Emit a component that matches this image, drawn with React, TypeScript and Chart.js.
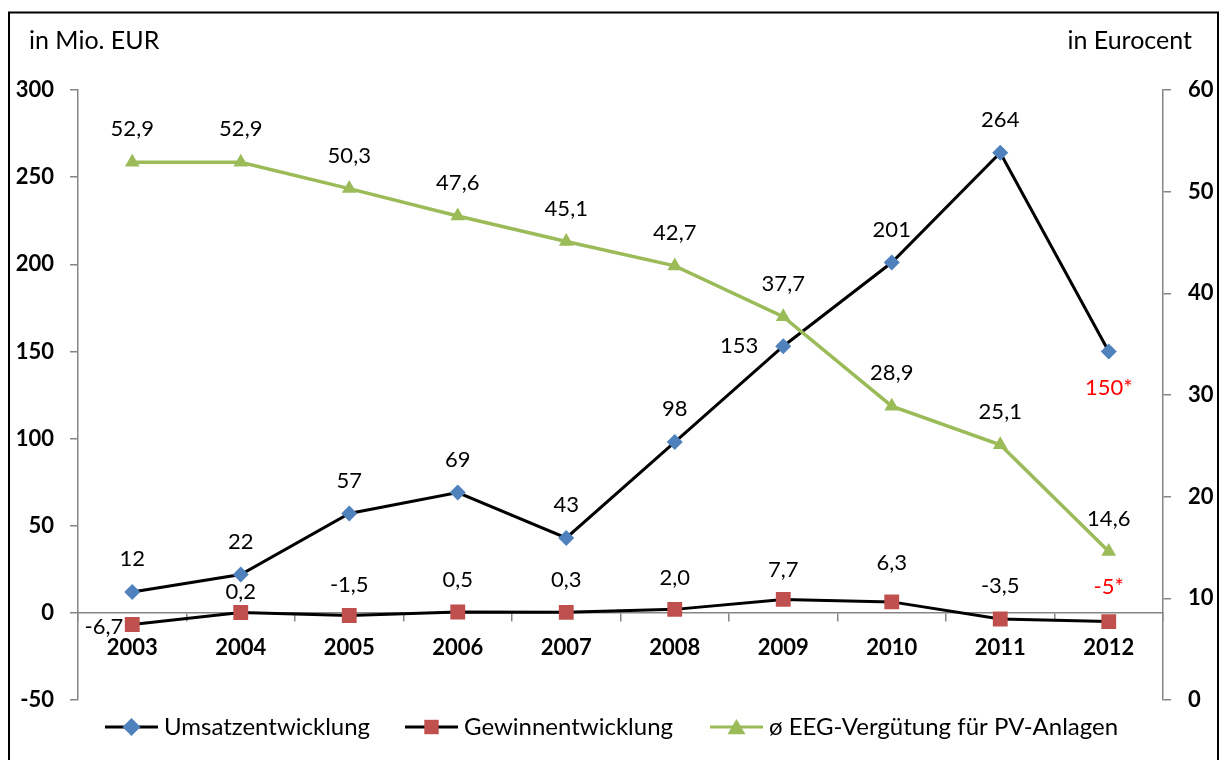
import React, { useEffect, useRef } from 'react';
import { Chart, registerables } from 'chart.js';

Chart.register(...registerables);

// ---- data ----
const years = ['2003', '2004', '2005', '2006', '2007', '2008', '2009', '2010', '2011', '2012'];
const umsatz = [12, 22, 57, 69, 43, 98, 153, 201, 264, 150];
const gewinn = [-6.7, 0.2, -1.5, 0.5, 0.3, 2.0, 7.7, 6.3, -3.5, -5];
const eeg = [52.9, 52.9, 50.3, 47.6, 45.1, 42.7, 37.7, 28.9, 25.1, 14.6];
const estimated = [false, false, false, false, false, false, false, false, false, true];

const seriesNames = ['Umsatzentwicklung', 'Gewinnentwicklung', 'ø EEG-Vergütung für PV-Anlagen'];
const leftAxisTitle = 'in Mio. EUR';
const rightAxisTitle = 'in Eurocent';

// ---- label placement (style) ----
const umsatzLabelPos = ['top', 'top', 'top', 'top', 'top', 'top', 'left', 'top', 'top', 'bottom'];
const gewinnLabelPos = ['leftClose', 'top', 'top', 'top', 'top', 'top', 'top', 'top', 'top', 'top'];
const gewinnLabelDy = [2, -21, -31, -32, -32, -31, -30, -39, -33, -35];
const eegLabelPos = ['top', 'top', 'top', 'top', 'top', 'top', 'top', 'top', 'top', 'top'];
const legendStarts = [105, 405, 710];

const FONT = 'Lato';
const BLUE = '#4F81BD';
const RED = '#C0504D';
const GREEN = '#9BBB59';
const AXIS = '#868686';

const fmtDec = (v: number) => v.toFixed(1).replace('.', ',');

const umsatzTexts = umsatz.map((v, i) => String(v) + (estimated[i] ? '*' : ''));
const gewinnTexts = gewinn.map((v, i) => (estimated[i] ? String(v) + '*' : fmtDec(v)));
const eegTexts = eeg.map((v) => fmtDec(v));

function drawMarker(ctx: CanvasRenderingContext2D, kind: string, x: number, y: number, r: number, color: string) {
  ctx.save();
  ctx.fillStyle = color;
  ctx.beginPath();
  if (kind === 'diamond') {
    ctx.moveTo(x, y - r);
    ctx.lineTo(x + r, y);
    ctx.lineTo(x, y + r);
    ctx.lineTo(x - r, y);
  } else if (kind === 'square') {
    ctx.rect(x - r * 0.72, y - r * 0.72, r * 1.44, r * 1.44);
  } else {
    ctx.moveTo(x, y - r * 0.9);
    ctx.lineTo(x + r, y + r * 0.8);
    ctx.lineTo(x - r, y + r * 0.8);
  }
  ctx.closePath();
  ctx.fill();
  ctx.restore();
}

const decorPlugin = {
  id: 'decor',
  beforeDraw(chart: any) {
    const ctx = chart.ctx as CanvasRenderingContext2D;
    ctx.save();
    ctx.fillStyle = '#ffffff';
    ctx.fillRect(0, 0, chart.width, chart.height);
    ctx.restore();
  },
  afterDatasetsDraw(chart: any) {
    const ctx = chart.ctx as CanvasRenderingContext2D;
    ctx.save();
    ctx.font = `22px ${FONT}`;
    ctx.textBaseline = 'middle';
    chart.data.datasets.forEach((ds: any, i: number) => {
      const meta = chart.getDatasetMeta(i);
      const cfg = ds.labelCfg;
      meta.data.forEach((pt: any, j: number) => {
        const pos = cfg.pos[j];
        let x = pt.x;
        let y = pt.y;
        ctx.textAlign = 'center';
        if (pos === 'top') {
          y += cfg.dy ? cfg.dy[j] : -33;
        } else if (pos === 'bottom') {
          y += 36;
        } else if (pos === 'left') {
          ctx.textAlign = 'right';
          x -= 25;
        } else if (pos === 'leftClose') {
          ctx.textAlign = 'right';
          x -= 9;
          y += cfg.dy ? cfg.dy[j] : 0;
        }
        ctx.fillStyle = estimated[j] && cfg.markEstimated ? '#FF0000' : '#000000';
        ctx.fillText(cfg.texts[j], x, y);
      });
    });
    ctx.restore();
  },
  afterDraw(chart: any) {
    const ctx = chart.ctx as CanvasRenderingContext2D;
    ctx.save();
    // outer frame
    ctx.strokeStyle = '#000';
    ctx.lineWidth = 2;
    ctx.strokeRect(9, 12.5, 1209, 800);
    // axis titles
    ctx.fillStyle = '#000';
    ctx.font = `25px ${FONT}`;
    ctx.textBaseline = 'middle';
    ctx.textAlign = 'left';
    ctx.fillText(leftAxisTitle, 29, 41);
    ctx.textAlign = 'right';
    ctx.fillText(rightAxisTitle, 1192, 41);
    // legend
    ctx.font = `24px ${FONT}`;
    const items = [
      { text: seriesNames[0], line: '#000', marker: 'diamond', color: BLUE, r: 9 },
      { text: seriesNames[1], line: '#000', marker: 'square', color: RED, r: 10 },
      { text: seriesNames[2], line: GREEN, marker: 'triangle', color: GREEN, r: 9 },
    ];
    const sample = 53;
    const gap = 6;
    const ly = 727;
    items.forEach((it, k) => {
      const sx = legendStarts[k];
      ctx.strokeStyle = it.line;
      ctx.lineWidth = 3;
      ctx.beginPath();
      ctx.moveTo(sx, ly);
      ctx.lineTo(sx + sample, ly);
      ctx.stroke();
      drawMarker(ctx, it.marker, sx + sample / 2, ly, it.r, it.color);
      ctx.fillStyle = '#000';
      ctx.textAlign = 'left';
      ctx.fillText(it.text, sx + sample + gap, ly);
    });
    ctx.restore();
  },
};

export default function App() {
  const ref = useRef<HTMLCanvasElement | null>(null);
  useEffect(() => {
    if (!ref.current) return;
    const tickFont = { family: FONT, size: 22, weight: 'bold' as const };
    const chart = new Chart(ref.current, {
      type: 'line',
      data: {
        labels: years,
        datasets: [
          {
            label: seriesNames[0],
            data: umsatz,
            yAxisID: 'y',
            borderColor: '#000',
            borderWidth: 3,
            tension: 0,
            pointStyle: 'rectRot',
            pointRadius: 8,
            pointBackgroundColor: BLUE,
            pointBorderColor: BLUE,
            pointBorderWidth: 0,
            order: 3,
            labelCfg: { texts: umsatzTexts, pos: umsatzLabelPos, markEstimated: true },
          } as any,
          {
            label: seriesNames[1],
            data: gewinn,
            yAxisID: 'y',
            borderColor: '#000',
            borderWidth: 3,
            tension: 0,
            pointStyle: 'rect',
            pointRadius: 10.5,
            pointBackgroundColor: RED,
            pointBorderColor: RED,
            pointBorderWidth: 0,
            order: 2,
            labelCfg: { texts: gewinnTexts, pos: gewinnLabelPos, dy: gewinnLabelDy, markEstimated: true },
          } as any,
          {
            label: seriesNames[2],
            data: eeg,
            yAxisID: 'y1',
            borderColor: GREEN,
            borderWidth: 3.5,
            tension: 0,
            pointStyle: 'triangle',
            pointRadius: 8.5,
            pointBackgroundColor: GREEN,
            pointBorderColor: GREEN,
            pointBorderWidth: 0,
            order: 1,
            labelCfg: { texts: eegTexts, pos: eegLabelPos, markEstimated: false },
          } as any,
        ],
      },
      options: {
        responsive: false,
        animation: false,
        events: [],
        layout: { padding: { top: 90, bottom: 60, left: 0, right: 0 } },
        plugins: { legend: { display: false }, tooltip: { enabled: false }, title: { display: false } },
        scales: {
          x: {
            type: 'category',
            position: { y: 0 } as any,
            offset: true,
            grid: { offset: true, drawOnChartArea: false, drawTicks: true, tickLength: 8, color: AXIS, lineWidth: 1.5 },
            border: { display: true, color: AXIS, width: 1.5 },
            ticks: { color: '#000', font: tickFont, padding: 14, maxRotation: 0, autoSkip: false },
          },
          y: {
            position: 'left',
            min: -50,
            max: 300,
            ticks: { stepSize: 50, padding: 16, color: '#000', font: tickFont },
            grid: { drawOnChartArea: false, drawTicks: true, tickLength: 8, color: AXIS, lineWidth: 1.5 },
            border: { display: true, color: AXIS, width: 1.5 },
            afterFit: (s: any) => {
              s.width = 78;
            },
          },
          y1: {
            position: 'right',
            min: 0,
            max: 60,
            ticks: { stepSize: 10, padding: 17, color: '#000', font: tickFont },
            grid: { drawOnChartArea: false, drawTicks: true, tickLength: 8, color: AXIS, lineWidth: 1.5 },
            border: { display: true, color: AXIS, width: 1.5 },
            afterFit: (s: any) => {
              s.width = 62;
            },
          },
        },
      },
      plugins: [decorPlugin],
    });
    return () => chart.destroy();
  }, []);

  return (
    <div style={{ position: 'absolute', left: 0, top: 0, width: 1225, height: 760 }}>
      <canvas ref={ref} width={1225} height={760} style={{ display: 'block', width: 1225, height: 760 }} />
    </div>
  );
}
